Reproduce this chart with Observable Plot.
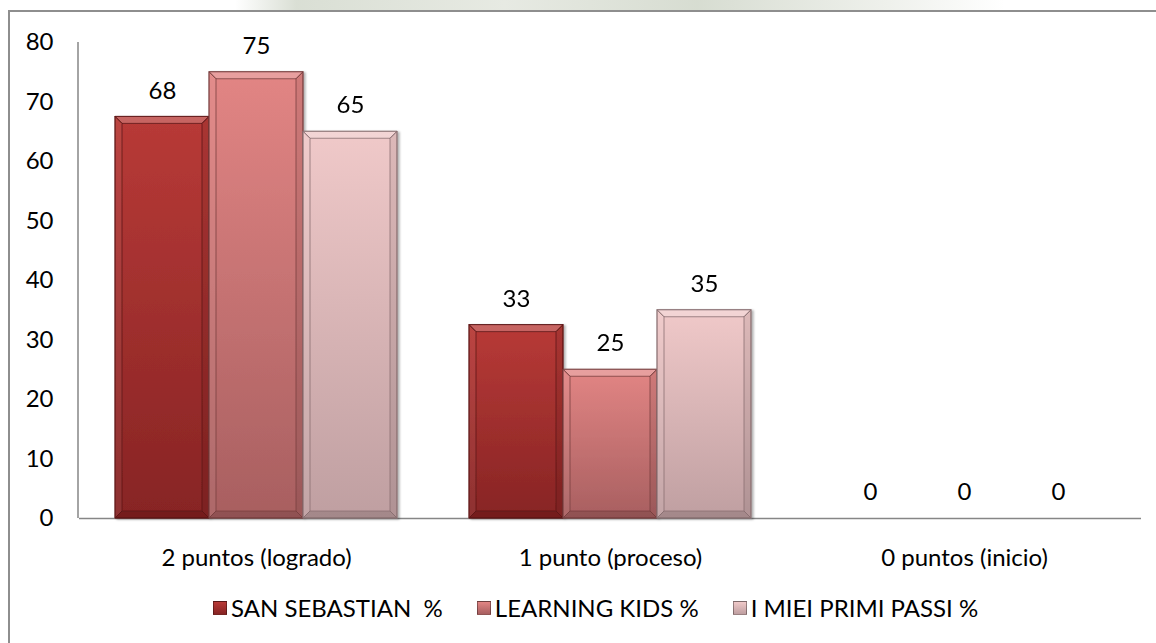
<!DOCTYPE html>
<html>
<head>
<meta charset="utf-8">
<script src="https://cdn.jsdelivr.net/npm/d3@7"></script>
<script src="https://cdn.jsdelivr.net/npm/@observablehq/plot@0.6"></script>
<style>
  html, body { margin: 0; padding: 0; background: #fff; }
  body { width: 1156px; height: 643px; overflow: hidden; position: relative; font-family: Lato, "Open Sans", sans-serif; }
  #wm { position: absolute; left: 235px; top: 0; width: 770px; height: 11px;
        background: linear-gradient(90deg, rgba(205,212,198,0) 0%, rgba(205,212,198,0.75) 8%, rgba(215,220,208,0.6) 35%, rgba(205,212,198,0.8) 60%, rgba(215,220,208,0.4) 85%, rgba(230,232,226,0) 100%); }
  #frame { position: absolute; left: 8px; top: 10px; width: 1200px; height: 700px;
           border-left: 2px solid #8e8e8e; border-top: 2px solid #8e8e8e; }
  #chart { position: absolute; left: 0; top: 0; }
  #legend { position: absolute; left: 213px; top: 593px; display: flex; align-items: center;
            font-size: 24px; color: #000; white-space: pre; }
  .item { display: flex; align-items: center; margin-right: 34px; }
  .sw { width: 12px; height: 12px; margin-right: 4px; border: 1px solid rgba(0,0,0,0.35); }
</style>
</head>
<body>
<div id="wm"></div>
<div id="frame"></div>
<div id="chart"></div>
<div id="legend"></div>
<script>
// ---- data ----
const groups = ["2 puntos (logrado)", "1 punto (proceso)", "0 puntos (inicio)"];
const series = ["SAN SEBASTIAN  %", "LEARNING KIDS %", "I MIEI PRIMI PASSI %"];
const sanSebastian = [67.5, 32.5, 0];
const learningKids = [75, 25, 0];
const miPrimiPassi = [65, 35, 0];
const yTicks = [0, 10, 20, 30, 40, 50, 60, 70, 80];

// ---- styles ----
const gradTop = ["#b83a37", "#e28584", "#f0c9c9"];
const gradBottom = ["#872424", "#a85f60", "#bf9fa1"];
const strokes = ["#5e1616", "#7a4040", "#8a7072"];

const seriesValues = [sanSebastian, learningKids, miPrimiPassi];
const data = groups.flatMap((g, i) => series.map((s, j) => ({group: g, series: s, value: seriesValues[j][i]})));

const plot = Plot.plot({
  width: 1156,
  height: 580,
  marginLeft: 78,
  marginRight: 14,
  marginTop: 42,
  marginBottom: 62,
  style: {fontFamily: "Lato, 'Open Sans', sans-serif", fontSize: "24px", color: "#000", background: "transparent", overflow: "visible"},
  fx: {domain: groups, padding: 0, label: null, axis: "bottom", tickSize: 0, tickPadding: 30},
  x: {domain: series, paddingInner: 0, paddingOuter: 0.377, axis: null},
  y: {domain: [0, 80], ticks: yTicks, tickSize: 0, tickPadding: 26, label: null},
  marks: [
    Plot.ruleY([0], {stroke: "#868686", strokeWidth: 1.5}),
    ...series.map((s, j) => Plot.barY(data.filter(d => d.series === s), {
      fx: "group", x: "series", y: "value",
      fill: `url(#grad${j})`, stroke: strokes[j], strokeWidth: 0.8
    })),
    Plot.text(data, {fx: "group", x: "series", y: "value", text: d => String(Math.round(d.value)), dy: -26, fill: "#000", fontSize: 24})
  ]
});

document.getElementById("chart").appendChild(plot);

// gradients, shadow, bevels, y-axis line
const svg = d3.select(plot);
const defs = svg.insert("defs", ":first-child");
series.forEach((s, j) => {
  const g = defs.append("linearGradient").attr("id", `grad${j}`).attr("x1", 0).attr("y1", 0).attr("x2", 0).attr("y2", 1);
  g.append("stop").attr("offset", "0%").attr("stop-color", gradTop[j]);
  g.append("stop").attr("offset", "100%").attr("stop-color", gradBottom[j]);
});
const f = defs.append("filter").attr("id", "shadow").attr("x", "-10%").attr("y", "-10%").attr("width", "130%").attr("height", "130%");
f.append("feDropShadow").attr("dx", 2).attr("dy", 1).attr("stdDeviation", 1.2).attr("flood-color", "#000").attr("flood-opacity", 0.3);

svg.selectAll('g[aria-label="bar"]').attr("filter", "url(#shadow)");
svg.selectAll('g[aria-label="bar"] rect').each(function() {
  const r = d3.select(this);
  const x = +r.attr("x"), y = +r.attr("y"), w = +r.attr("width"), h = +r.attr("height");
  if (!(h > 2)) return;
  const b = Math.min(7, h / 2);
  const p = d3.select(this.parentNode);
  const poly = (pts, fill, op) => p.append("polygon").attr("points", pts.map(q => q.join(",")).join(" ")).attr("fill", fill).attr("fill-opacity", op);
  poly([[x, y], [x + w, y], [x + w - b, y + b], [x + b, y + b]], "#fff", 0.22);
  poly([[x, y], [x + b, y + b], [x + b, y + h - b], [x, y + h]], "#fff", 0.06);
  poly([[x + w, y], [x + w, y + h], [x + w - b, y + h - b], [x + w - b, y + b]], "#000", 0.08);
  poly([[x, y + h], [x + b, y + h - b], [x + w - b, y + h - b], [x + w, y + h]], "#000", 0.14);
});

const ys = plot.scale("y");
const fxs = plot.scale("fx");
const xLeft = Math.min(...fxs.range);
svg.append("line")
  .attr("x1", xLeft).attr("x2", xLeft)
  .attr("y1", ys.range[0]).attr("y2", ys.range[1])
  .attr("stroke", "#868686").attr("stroke-width", 1.5);

// legend
const legend = d3.select("#legend");
series.forEach((s, j) => {
  const it = legend.append("div").attr("class", "item");
  it.append("div").attr("class", "sw").style("background", `linear-gradient(180deg, ${gradTop[j]}, ${gradBottom[j]})`);
  it.append("span").text(s);
});
</script>
</body>
</html>
